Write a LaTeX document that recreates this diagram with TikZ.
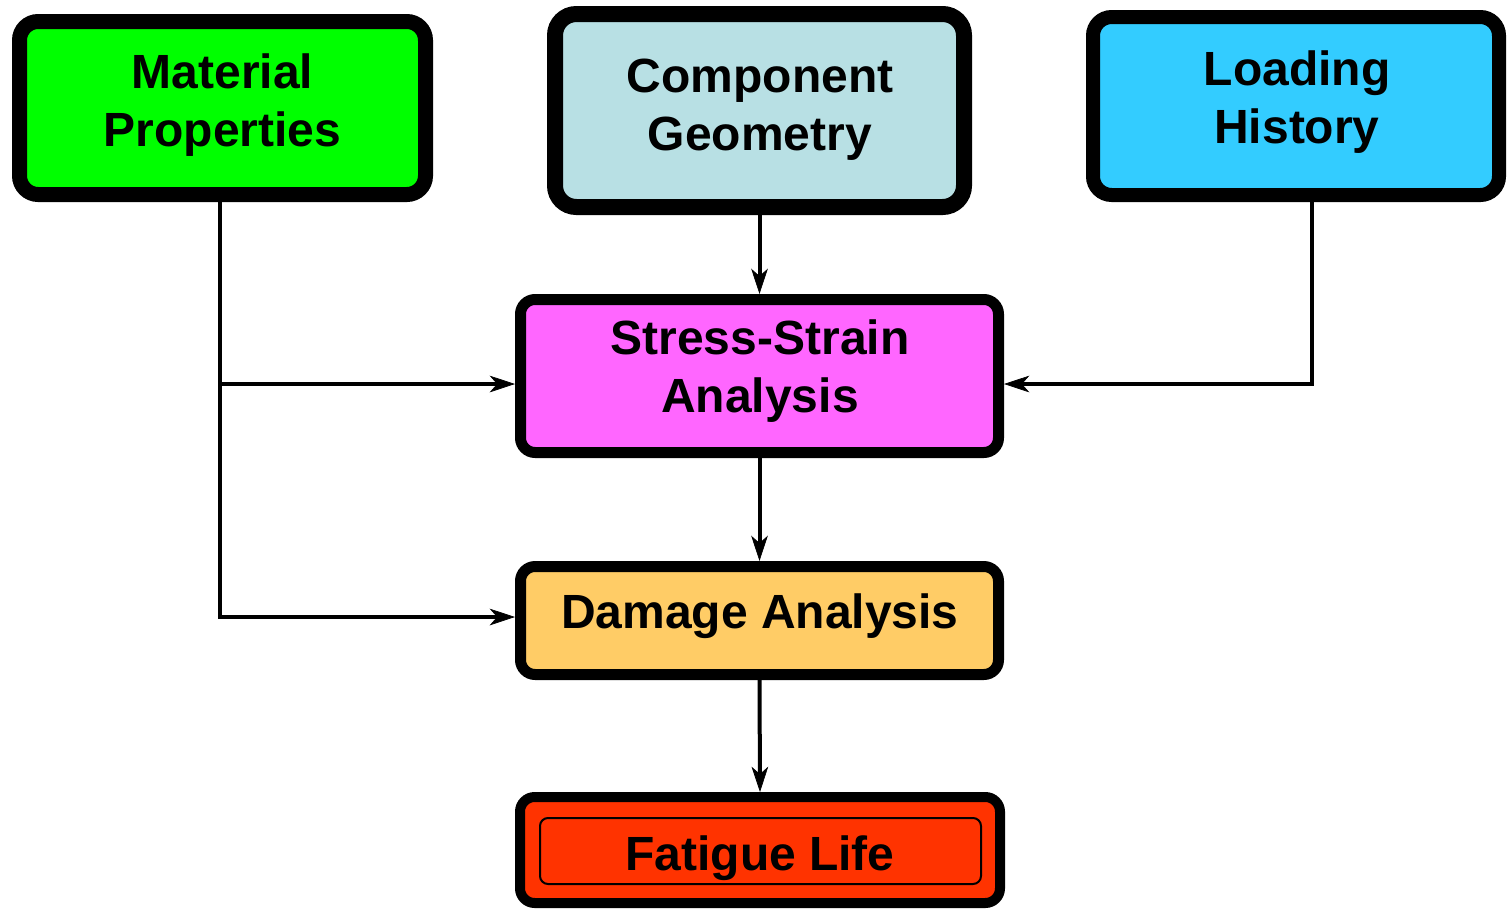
\documentclass[tikz,border=0pt]{standalone}
\usepackage{fontspec}
\setmainfont{Liberation Sans}
\usetikzlibrary{arrows.meta,calc}

\definecolor{matgreen}{RGB}{0,255,0}
\definecolor{geoblue}{RGB}{184,224,228}
\definecolor{loadblue}{RGB}{51,204,255}
\definecolor{ssmagenta}{RGB}{255,102,255}
\definecolor{dmgorange}{RGB}{255,204,102}
\definecolor{fatred}{RGB}{255,51,0}

\tikzset{every picture/.style={line width=0.75pt}}
\tikzset{
  box/.style={draw=black, rectangle, rounded corners=14pt, inner sep=0pt},
  txt/.style={font=\fontsize{36}{43}\selectfont\bfseries, align=center, inner sep=0pt},
  conn/.style={line width=3pt, -{Stealth[length=19pt, width=12.5pt, inset=5.5pt, line width=0.5pt]}}
}

\begin{document}
\begin{tikzpicture}[x=0.75pt,y=0.75pt,yscale=-1,xscale=1]
	\useasboundingbox (0,0) rectangle (1507,908);

	%Rounded Rect [Material]
	\node [box, fill=matgreen, line width=11.25pt, minimum width=304.5pt, minimum height=129.75pt] (mat) at (222.5,108) {};
	%Rounded Rect [Geometry]
	\node [box, fill=geoblue, line width=12pt, rounded corners=16pt, minimum width=306.75pt, minimum height=144.75pt] (geo) at (759.5,110.5) {};
	%Rounded Rect [Loading]
	\node [box, fill=loadblue, line width=10.5pt, minimum width=304.5pt, minimum height=133.5pt] (load) at (1296,106) {};
	%Rounded Rect [Stress-Strain]
	\node [box, fill=ssmagenta, line width=8.25pt, rounded corners=11pt, minimum width=358.5pt, minimum height=114.75pt] (ss) at (759.5,376) {};
	%Rounded Rect [Damage]
	\node [box, fill=dmgorange, line width=8.25pt, rounded corners=11pt, minimum width=358.5pt, minimum height=81pt] (dmg) at (759.5,620.5) {};
	%Rounded Rect [Fatigue]
	\node [box, fill=fatred, line width=7.5pt, rounded corners=11pt, minimum width=360pt, minimum height=79.5pt] (fat) at (760,850) {};
	\node [box, line width=1.5pt, rounded corners=6pt, minimum width=330.75pt, minimum height=49.5pt] (fatin) at (760.5,851) {};

	% Text Node
	\node [txt, anchor=base] (matT) at (222.5,146) {Material\\Properties};
	% Text Node
	\node [txt, anchor=base] (geoT) at (760,150) {Component\\Geometry};
	% Text Node
	\node [txt, anchor=base] (loadT) at (1297,143) {Loading\\History};
	% Text Node
	\node [txt, anchor=base] (ssT) at (760,412) {Stress-Strain\\Analysis};
	% Text Node
	\node [txt, anchor=base] (dmgT) at (760,628) {Damage Analysis};
	% Text Node
	\node [txt, anchor=base] (fatT) at (760,870) {Fatigue Life};

	%Straight Lines
	\coordinate (matdown) at ($(mat.south)+(-2.5,0)$);
	\coordinate (ssL) at ($(ss.west)+(0,8)$);
	\coordinate (ssR) at ($(ss.east)+(0,8)$);
	\coordinate (loaddown) at ($(load.south)+(16,0)$);
	\draw [line width=3pt] (matdown) |- ($(dmg.west)+(-40,-3.5)$);
	\draw [conn] ($(dmg.west)+(-40,-3.5)$) -- ($(dmg.west)+(0,-3.5)$);
	\draw [conn] (matdown |- ssL) -- (ssL);
	\draw [conn] (loaddown) |- (ssR);
	\draw [conn] (geo.south) -- (ss.north);
	\draw [conn] (ss.south) -- (dmg.north);
	\draw [conn] (dmg.south) -- (fat.north);

\end{tikzpicture}
\end{document}
